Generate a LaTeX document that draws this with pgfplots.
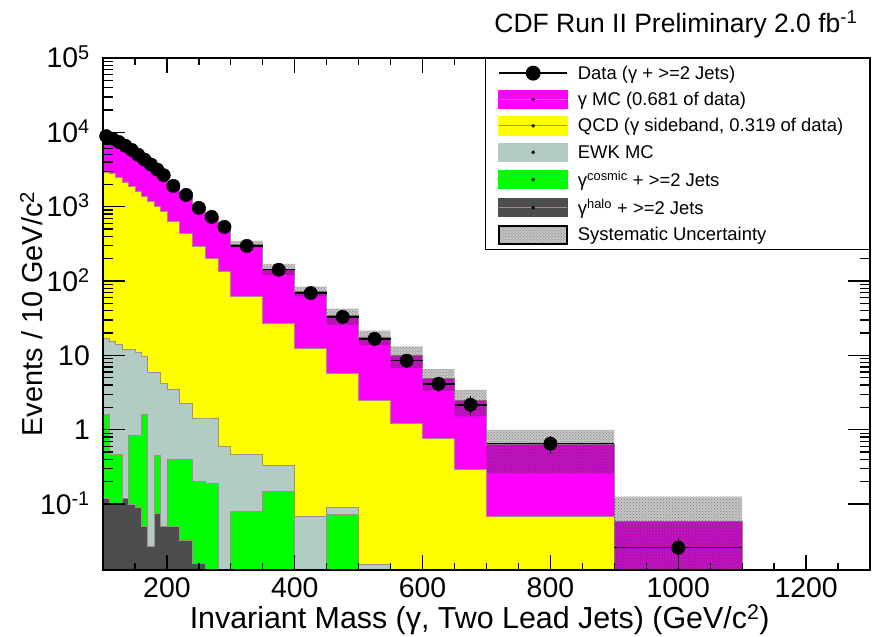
\documentclass[border=0pt]{standalone}
\usepackage{fontspec}
\setmainfont{Liberation Sans}
\usepackage{pgfplots}
\usepackage{pgfplotstable}
\pgfplotsset{compat=1.18}
\usetikzlibrary{patterns}

\definecolor{mcmag}{RGB}{255,0,255}
\definecolor{qcdyel}{RGB}{255,255,0}
\definecolor{ewkgrey}{RGB}{178,204,196}
\definecolor{cosgreen}{RGB}{0,255,0}
\definecolor{halogrey}{RGB}{77,77,77}
\definecolor{edge}{RGB}{165,140,140}

% cumulative stack heights (events / 10 GeV), bin left edges
\pgfplotstableread{
x      tot    qcd    ewk     cos    halo
100    1e-4   1e-4   1e-4    1e-4   1e-4
100    8900   2900   17      1.6    0.12
110    8200   2800   15.4    0.46   0.10
120    7400   2450   13.9    0.46   0.10
130    6600   2150   11.9    0.12   0.12
140    5800   1850   11.9    0.83   0.10
150    5000   1600   11      0.83   0.09
160    4300   1380   9.7     1.59   0.05
170    3700   1180   5.9     0.027  0.027
180    3150   1000   5.9     0.45   0.074
190    2650   860    4.2     0.05   0.05
200    1905   640    3.45    0.40   0.05
220    1440   440    2.28    0.40   0.033
240    965    290    1.44    0.20   0.016
260    730    200    1.44    0.19   1e-4
280    535    135    0.60    1e-4   1e-4
300    315    62     0.46    0.080  1e-4
350    145    27     0.33    0.148  1e-4
400    73     12.5   0.068   1e-4   1e-4
450    34     5.8    0.091   0.072  1e-4
500    17.6   2.5    0.0153  1e-4   1e-4
550    10     1.2    1e-4    1e-4   1e-4
600    4.96   0.77   1e-4    1e-4   1e-4
650    2.48   0.29   1e-4    1e-4   1e-4
700    0.63   0.068  1e-4    1e-4   1e-4
900    0.058  1e-4   1e-4    1e-4   1e-4
1100   1e-4   1e-4   1e-4    1e-4   1e-4
}\stack

% data
\pgfplotstableread{
x     y      ex    ey
105   8900   5     94
115   8200   5     91
125   7400   5     86
135   6600   5     81
145   5800   5     76
155   5000   5     71
165   4300   5     66
175   3700   5     61
185   3150   5     56
195   2650   5     51
210   1905   10    31
230   1440   10    27
250   965    10    22
270   730    10    19
290   535    10    16
325   297    25    7.7
375   142    25    5.3
425   69     25    3.7
475   33     25    2.6
525   16.7   25    1.8
575   8.5    25    1.3
625   4.15   25    0.91
675   2.17   25    0.66
800   0.65   100   0.18
1000  0.026  100   0.009
}\data

\newcommand{\areaimg}[1]{\fill[#1] (0bp,-9bp) rectangle (68bp,9bp);
  \draw[edge, line width=1bp] (0bp,0bp) -- (68bp,0bp);
  \fill[black] (34bp,0bp) circle (0.9bp);}

% systematic band outline: upper edges left to right, lower edges right to left
\newcommand{\bandcoords}{
(100,9345)(110,9345)(110,8610)(120,8610)(120,7770)(130,7770)(130,6930)(140,6930)
(140,6090)(150,6090)(150,5250)(160,5250)(160,4515)(170,4515)(170,3885)(180,3885)
(180,3308)(190,3308)(190,2783)(200,2783)(200,2057)(220,2057)(220,1555)(240,1555)
(240,1042)(260,1042)(260,788)(280,788)(280,578)(300,578)(300,346.5)(350,346.5)
(350,169.7)(400,169.7)(400,84)(450,84)(450,42.5)(500,42.5)(500,21.5)(550,21.5)
(550,13.2)(600,13.2)(600,6.55)(650,6.55)(650,3.45)(700,3.45)(700,1.0)(900,1.0)
(900,0.126)(1100,0.126)
(1100,1e-4)(900,1e-4)(900,0.26)(700,0.26)(700,1.51)(650,1.51)(650,3.37)(600,3.37)
(600,6.8)(550,6.8)(550,13.7)(500,13.7)(500,25.5)(450,25.5)(450,62)(400,62)
(400,120.4)(350,120.4)(350,283.5)(300,283.5)(300,492)(280,492)(280,672)(260,672)
(260,888)(240,888)(240,1325)(220,1325)(220,1753)(200,1753)(200,2518)(190,2518)
(190,2993)(180,2993)(180,3515)(170,3515)(170,4085)(160,4085)(160,4750)(150,4750)
(150,5510)(140,5510)(140,6270)(130,6270)(130,7030)(120,7030)(120,7790)(110,7790)
(110,8455)(100,8455)}

\begin{document}
\begin{tikzpicture}
\begin{axis}[
    scale only axis,
    width=767bp, height=512bp,
    at={(0,0)}, anchor=south west,
    xmin=100, xmax=1300,
    ymode=log, ymin=0.013, ymax=1e5,
    axis on top,
    axis line style={line width=1.6bp},
    tick align=inside,
    major tick length=15bp,
    minor tick length=7.5bp,
    major y tick style={/pgfplots/major tick length=22bp},
    minor y tick style={/pgfplots/minor tick length=10bp},
    every tick/.style={black, line width=1.3bp},
    xtick={200,400,600,800,1000,1200},
    xticklabels={200,400,600,800,1000,1200},
    minor xtick={150,250,300,350,450,500,550,650,700,750,850,900,950,1050,1100,1150,1250},
    ytick={0.1,1,10,100,1000,10000,100000},
    yticklabels={10\textsuperscript{-1},1,10,10\textsuperscript{2},10\textsuperscript{3},10\textsuperscript{4},10\textsuperscript{5}},
    xticklabel style={font=\fontsize{28.5}{30}\selectfont, inner sep=0pt, yshift=-7bp},
    yticklabel style={font=\fontsize{28.5}{30}\selectfont, anchor=base east, inner sep=0pt, xshift=-13bp, yshift=-10bp},
    legend cell align=left,
    legend style={at={(rel axis cs:1,1)}, anchor=north east, draw=black, line width=1.5bp,
        fill=white, font=\fontsize{18.5}{21}\selectfont, inner xsep=13bp, inner ysep=5bp,
        row sep=7bp, /tikz/every odd column/.append style={column sep=8bp}},
]
\addlegendimage{legend image code/.code={\draw[black, line width=1.5bp] (0bp,0bp) -- (68bp,0bp);
    \fill[black] (34bp,0bp) circle (6.7bp);}}
\addlegendentry{Data (γ + >=2 Jets)}
\addlegendimage{legend image code/.code={\areaimg{mcmag}}}
\addlegendentry{γ MC (0.681 of data)}
\addlegendimage{legend image code/.code={\areaimg{qcdyel}}}
\addlegendentry{QCD (γ sideband, 0.319 of data)\rule{11bp}{0pt}}
\addlegendimage{legend image code/.code={\fill[ewkgrey] (0bp,-9bp) rectangle (68bp,9bp);
    \fill[black] (34bp,0bp) circle (0.9bp);}}
\addlegendentry{EWK MC}
\addlegendimage{legend image code/.code={\areaimg{cosgreen}}}
\addlegendentry{γ\textsuperscript{cosmic} + >=2 Jets}
\addlegendimage{legend image code/.code={\areaimg{halogrey}}}
\addlegendentry{γ\textsuperscript{halo} + >=2 Jets}
\addlegendimage{legend image code/.code={\fill[black!22] (0bp,-9bp) rectangle (68bp,9bp);
    \fill[pattern=crosshatch dots, pattern color=black!55] (0bp,-9bp) rectangle (68bp,9bp);}}
\addlegendentry{Systematic Uncertainty}

\addplot[const plot mark left, fill=mcmag, draw=edge, line width=0.8bp, forget plot] table[x=x, y=tot] {\stack};
\addplot[const plot mark left, fill=qcdyel, draw=edge, line width=0.8bp, forget plot] table[x=x, y=qcd] {\stack};
\addplot[const plot mark left, fill=ewkgrey, draw=edge, line width=0.8bp, forget plot] table[x=x, y=ewk] {\stack};
\addplot[const plot mark left, fill=cosgreen, draw=edge, line width=0.8bp, forget plot] table[x=x, y=cos] {\stack};
\addplot[const plot mark left, fill=halogrey, draw=edge, line width=0.8bp, forget plot] table[x=x, y=halo] {\stack};

% systematic uncertainty band
\addplot[fill=black, fill opacity=0.22, draw=none, forget plot] coordinates {\bandcoords};
\addplot[pattern=crosshatch dots, pattern color=black!55, draw=none, forget plot] coordinates {\bandcoords};

\addplot[only marks, mark=*, mark size=6.7bp, black, forget plot,
    error bars/.cd, x dir=both, x explicit, y dir=both, y explicit,
    error bar style={line width=1.5bp, black}, error mark=none]
    table[x=x, y=y, x error=ex, y error=ey] {\data};
\end{axis}
\node[anchor=base east, font=\fontsize{26.6}{29}\selectfont] at (758bp,537bp) {CDF Run II Preliminary 2.0 fb\textsuperscript{-1}};
\node[anchor=base east, font=\fontsize{30.5}{32}\selectfont] at (670bp,-58bp) {Invariant Mass (γ, Two Lead Jets) (GeV/c\textsuperscript{2})};
\node[rotate=90, anchor=base, font=\fontsize{29}{31}\selectfont] at (-60bp,256bp) {Events / 10 GeV/c\textsuperscript{2}};
\pgfresetboundingbox
\useasboundingbox (-103bp,-67bp) rectangle (769bp,570bp);
\end{tikzpicture}
\end{document}
